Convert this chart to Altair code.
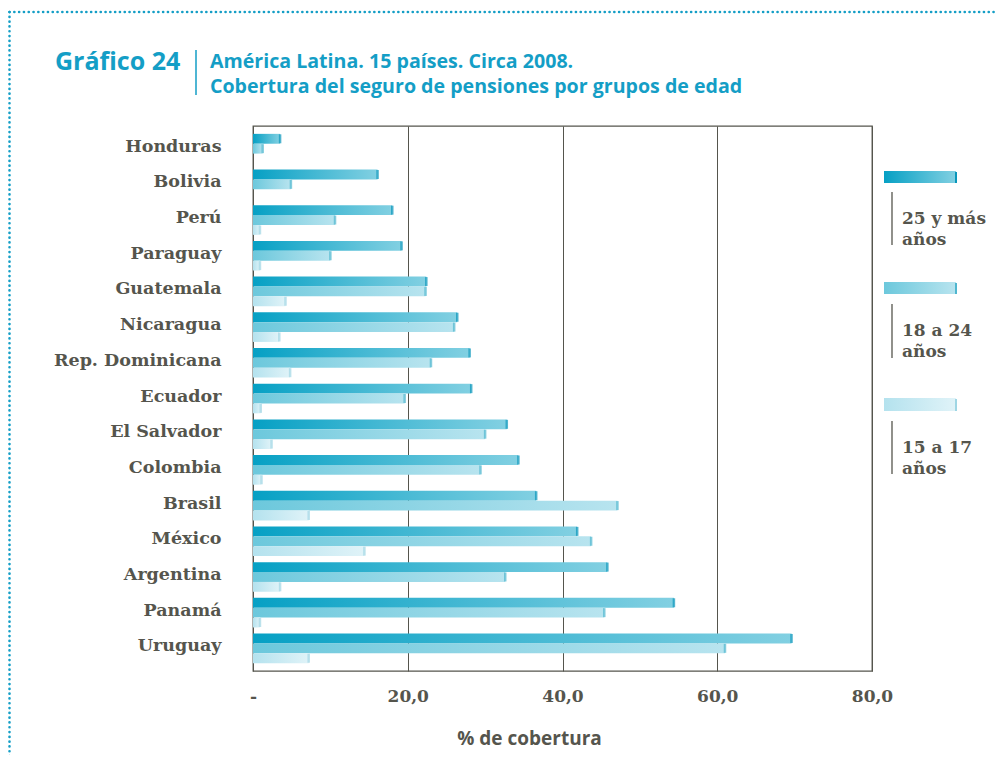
import altair as alt
import pandas as pd

# ---------------- data ----------------
countries = ["Honduras", "Bolivia", "Perú", "Paraguay", "Guatemala", "Nicaragua",
             "Rep. Dominicana", "Ecuador", "El Salvador", "Colombia", "Brasil",
             "México", "Argentina", "Panamá", "Uruguay"]
groups = ["25 y más años", "18 a 24 años", "15 a 17 años"]
v25 = [3.5, 16.1, 18.0, 19.2, 22.4, 26.4, 28.0, 28.2, 32.8, 34.3, 36.6, 41.9, 45.8, 54.4, 69.6]
v18 = [1.25, 4.9, 10.6, 10.0, 22.3, 26.0, 23.0, 19.6, 30.0, 29.4, 47.1, 43.7, 32.6, 45.4, 61.0]
v15 = [0.0, 0.0, 0.9, 0.9, 4.2, 3.4, 4.8, 1.0, 2.4, 1.1, 7.2, 14.4, 3.5, 0.9, 7.2]
legend_lines = [["25 y más", "años"], ["18 a 24", "años"], ["15 a 17", "años"]]
x_ticks = [0, 20, 40, 60, 80]
title_main = "Gráfico 24"
title_sub = ["América Latina. 15 países. Circa 2008.",
             "Cobertura del seguro de pensiones por grupos de edad"]
x_title = "% de cobertura"

rows = []
for g, vals in zip(groups, [v25, v18, v15]):
    for c, v in zip(countries, vals):
        rows.append({"pais": c, "grupo": g, "valor": v})
df = pd.DataFrame(rows)

# ---------------- styles ----------------
TEAL = "#149ec6"
GRAY = "#55554d"
grad_stops = [("#06a0c4", "#82d0e2"), ("#6cc8dc", "#b8e4ef"), ("#b4e2ee", "#e0f3f8")]
cap_colors = ["#0996ba", "#4fb6cf", "#9fd6e4"]
SERIF = "DejaVu Serif"
SANS = "Open Sans, sans-serif"

def grad(c0, c1):
    return alt.Gradient(gradient="linear",
                        stops=[alt.GradientStop(color=c0, offset=0),
                               alt.GradientStop(color=c1, offset=1)],
                        x1=0, x2=1, y1=0, y2=0)

x_enc = alt.X("valor:Q",
              scale=alt.Scale(domain=[0, 80], nice=False),
              axis=alt.Axis(values=x_ticks,
                            labelExpr="datum.value == 0 ? '-' : replace(format(datum.value, '.1f'), '.', ',')",
                            grid=True, gridColor=GRAY, gridOpacity=1, gridWidth=1,
                            domain=False, ticks=False, labelFlush=False,
                            labelPadding=17, labelFont=SERIF, labelFontSize=17,
                            labelFontWeight="bold", labelColor=GRAY,
                            title=x_title, titleFont=SANS, titleFontSize=19,
                            titleFontWeight="bold", titleColor=GRAY,
                            titleX=276, titleY=67, titleBaseline="middle",
                            titleAlign="center"))
y_enc = alt.Y("pais:N", sort=countries,
              scale=alt.Scale(paddingInner=0.17, paddingOuter=0.22),
              axis=alt.Axis(title=None, domain=False, ticks=False,
                            labelPadding=32, labelFont=SERIF, labelFontSize=17.5,
                            labelFontWeight="bold", labelColor=GRAY, labelOffset=-2))
yoff = alt.YOffset("grupo:N", scale=alt.Scale(domain=groups, paddingInner=0, paddingOuter=0))

layers = []
for g, (c0, c1) in zip(groups, grad_stops):
    layers.append(
        alt.Chart(df).transform_filter(alt.datum.grupo == g)
        .mark_bar(fill=grad(c0, c1), stroke=None)
        .encode(x=x_enc, y=y_enc, yOffset=yoff)
    )

caps = (alt.Chart(df).transform_filter(alt.datum.valor > 0)
        .mark_tick(thickness=2.5, size=9, orient="vertical")
        .encode(x=x_enc, y=y_enc, yOffset=yoff,
                color=alt.Color("grupo:N", scale=alt.Scale(domain=groups, range=cap_colors),
                                legend=None)))
layers.append(caps)

one = pd.DataFrame({"k": [0]})

def rule(x1, x2, y1, y2, color, width, dash=None, cap="butt"):
    kw = dict(color=color, strokeWidth=width, strokeCap=cap)
    if dash:
        kw["strokeDash"] = dash
    return alt.Chart(one).mark_rule(**kw).encode(
        x=alt.value(x1), x2=alt.value(x2), y=alt.value(y1), y2=alt.value(y2))

# dotted frame of the figure
layers.append(rule(-243.5, 760, -114, -114, TEAL, 2.6, [0.1, 4.7], "round"))
layers.append(rule(-243.5, -243.5, -114, 640, TEAL, 2.6, [0.1, 4.7], "round"))

# title block
layers.append(alt.Chart(one).mark_text(align="left", baseline="alphabetic", font=SANS,
                                       fontSize=25, fontWeight="bold", color=TEAL)
              .encode(x=alt.value(-198), y=alt.value(-56), text=alt.value(title_main)))
layers.append(rule(-57, -57, -76, -31, TEAL, 1.5))
for line, yy in zip(title_sub, [-58, -33]):
    layers.append(alt.Chart(one).mark_text(align="left", baseline="alphabetic", font=SANS,
                                           fontSize=19.6, fontWeight="bold", color=TEAL)
                  .encode(x=alt.value(-43), y=alt.value(yy), text=alt.value(line)))

# custom legend
sw_y = [(45, 57), (156, 168), (272, 285)]
ln_y = [(66, 119), (178, 232), (295, 348)]
tx_y = [98, 210, 327]
for i in range(3):
    c0, c1 = grad_stops[i]
    layers.append(alt.Chart(one).mark_rect(fill=grad(c0, c1))
                  .encode(x=alt.value(631), x2=alt.value(703),
                          y=alt.value(sw_y[i][0]), y2=alt.value(sw_y[i][1])))
    layers.append(alt.Chart(one).mark_rect(fill=cap_colors[i])
                  .encode(x=alt.value(702), x2=alt.value(704),
                          y=alt.value(sw_y[i][0] + 1), y2=alt.value(sw_y[i][1])))
    layers.append(rule(639, 639, ln_y[i][0], ln_y[i][1], GRAY, 1.3))
    layers.append(alt.Chart(one).mark_text(align="left", baseline="alphabetic", font=SERIF,
                                           fontSize=17, fontWeight="bold", color=GRAY,
                                           lineHeight=21)
                  .encode(x=alt.value(649), y=alt.value(tx_y[i]),
                          text=alt.value(legend_lines[i])))

chart = (alt.layer(*layers)
         .properties(width=619, height=545,
                     autosize=alt.AutoSizeParams(type="none"),
                     padding={"left": 245, "top": 118, "right": 125, "bottom": 84},
                     background="white")
         .configure_view(stroke=GRAY, strokeWidth=1.3))

chart.save("out.html", embed_options={"renderer": "svg", "actions": False})
